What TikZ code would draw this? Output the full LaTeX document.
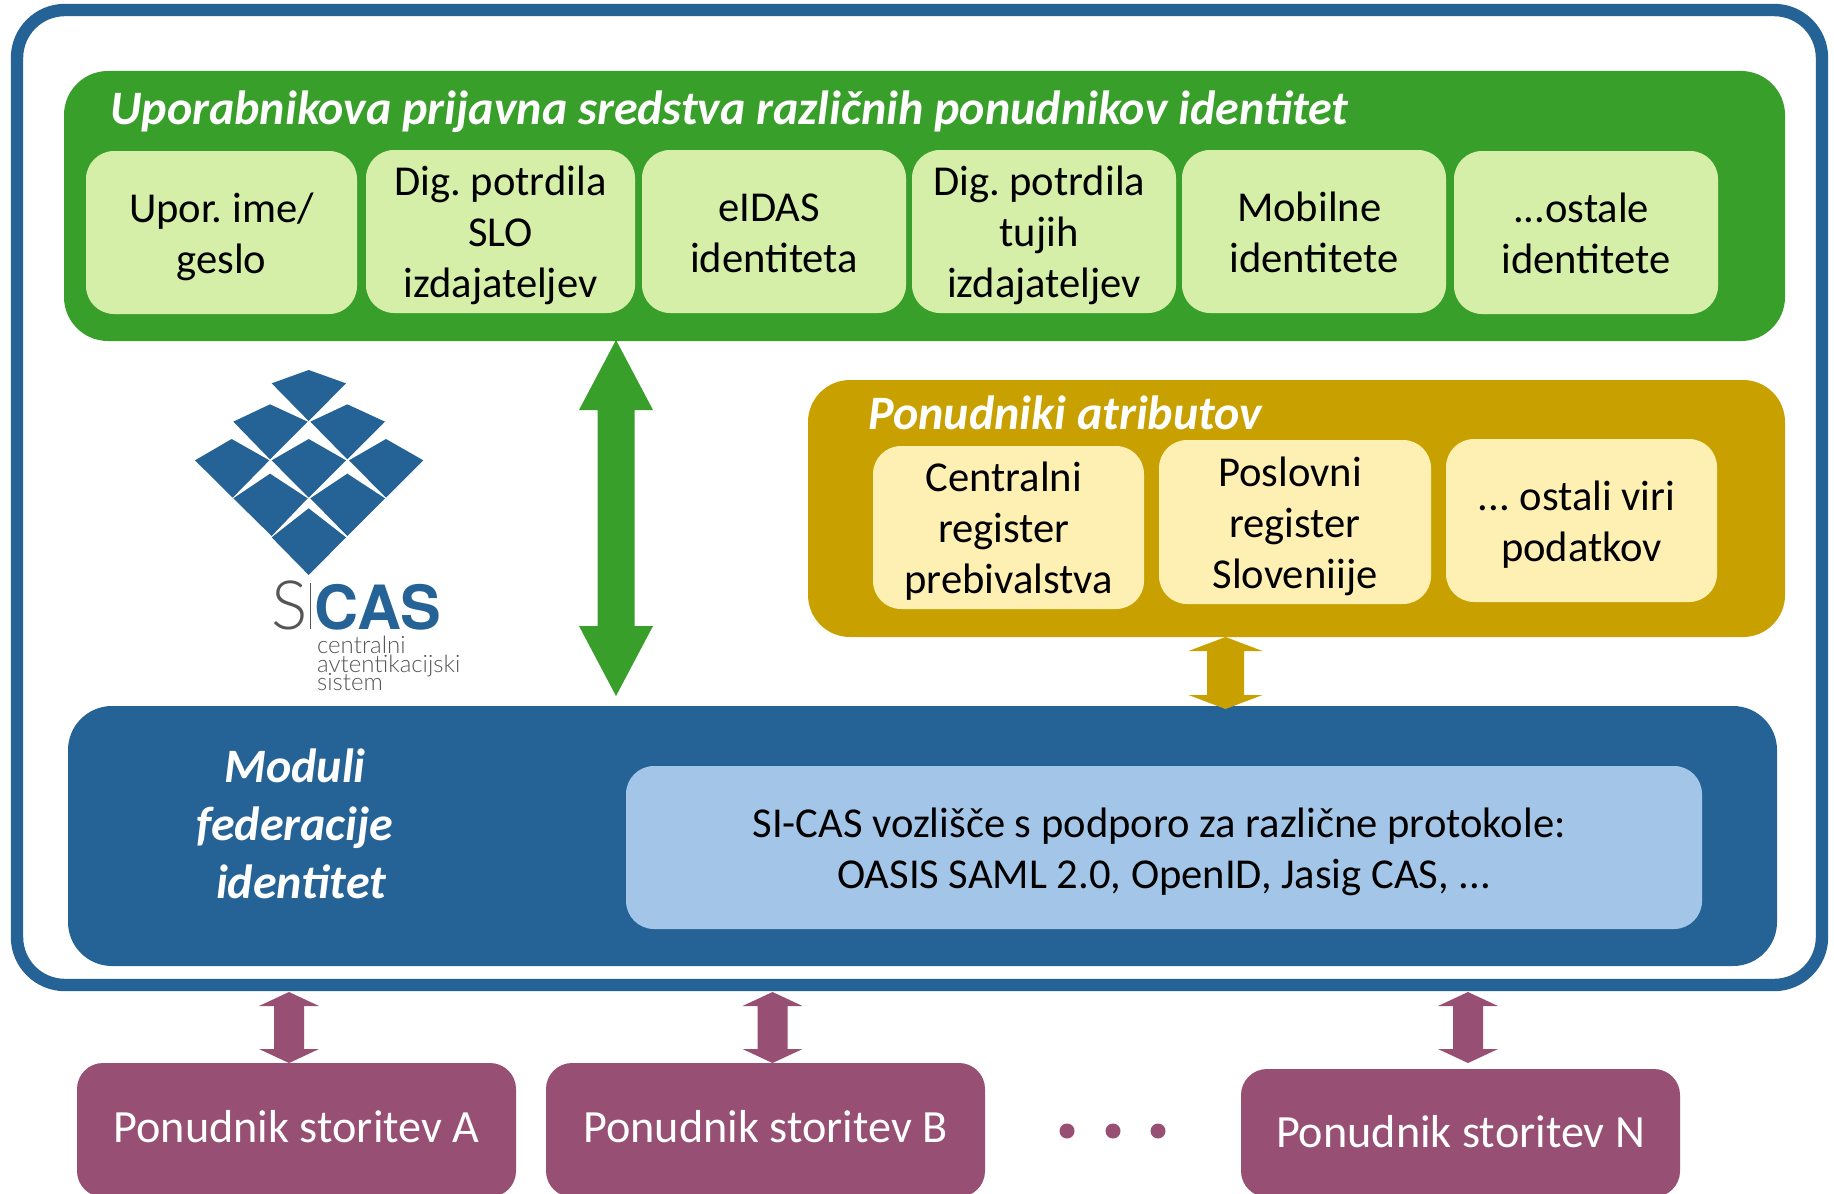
\documentclass[tikz,border=0pt]{standalone}
\usepackage{fontspec}
\setmainfont{Carlito}
\newfontfamily\logofont{TeX Gyre Heros}
\newfontfamily\logolight{Lato}[UprightFont=* Light]
\definecolor{framecol}{HTML}{256295}
\definecolor{greenpanel}{HTML}{399F2B}
\definecolor{greenbox}{HTML}{D6EFA8}
\definecolor{goldpanel}{HTML}{C8A100}
\definecolor{goldbox}{HTML}{FEEFB3}
\definecolor{bluebox}{HTML}{A3C6E8}
\definecolor{purplecol}{HTML}{974F73}
\definecolor{logogrey}{HTML}{555555}
\newcommand{\tw}[1]{\mbox{#1\hspace{0.226em}}}
\newcommand{\ls}{\rule[-5.1pt]{0pt}{25.5pt}}
\newcommand{\boxat}[7]{% name, x1,y1,x2,y2, style, text
  \node[#6, minimum width={(#4-#2)*0.5pt}, minimum height={(#5-#3)*0.5pt}] (#1) at ({(#2+#4)/2},{(#3+#5)/2}) {#7};}
\tikzset{
  panel/.style={rounded corners=22pt, inner sep=0pt, outer sep=0pt, draw=none},
  greenpanelbox/.style={panel, fill=greenpanel},
  goldpanelbox/.style={panel, rounded corners=21pt, fill=goldpanel},
  bluepanelbox/.style={panel, fill=framecol},
  inbox/.style={rounded corners=14pt, inner sep=0pt, outer sep=0pt, draw=none, align=center, text=black, font=\fontsize{21.3}{25.5}\selectfont},
  gbox/.style={inbox, fill=greenbox},
  ybox/.style={inbox, fill=goldbox},
  lbox/.style={inbox, fill=bluebox},
  sbox/.style={inbox, rounded corners=13pt, fill=purplecol, text=white, font=\fontsize{23.1}{28}\selectfont},
  paneltitle/.style={font=\fontsize{24}{29}\bfseries\itshape\selectfont, text=white, inner sep=0pt, anchor=base west},
  modtitle/.style={font=\fontsize{24}{29}\bfseries\itshape\selectfont, text=white, inner sep=0pt, align=center},
  dot/.style={circle, fill=purplecol, minimum size=7.5pt, inner sep=0pt, draw=none},
  diam/.style={fill=framecol, draw=none},
  logotext/.style={text=logogrey, inner sep=0pt, anchor=base west},
}
\newcommand{\dblarrow}[8]{% colour, cx, y1, y2, headhalf, shafthalf, headlen, name
  \fill[#1] (#2,#3) coordinate (#8top) -- ({#2+#5},{#3+#7}) -- ({#2+#6},{#3+#7}) -- ({#2+#6},{#4-#7}) -- ({#2+#5},{#4-#7}) -- (#2,#4) coordinate (#8bot) -- ({#2-#5},{#4-#7}) -- ({#2-#6},{#4-#7}) -- ({#2-#6},{#3+#7}) -- ({#2-#5},{#3+#7}) -- cycle;}
\begin{document}
\frenchspacing
\begin{tikzpicture}[x=0.5pt,y=-0.5pt]
\useasboundingbox (0,0) rectangle (1834,1193);
\fill[white] (0,0) rectangle (1834,1193);
% outer frame
\draw[framecol, line width=6.2pt, rounded corners=24pt] (17,10) rectangle (1822,985);
% green panel
\boxat{green}{64}{71}{1785}{341}{greenpanelbox}{}
\node[paneltitle] (greentitle) at (110,125) {Uporabnikova prijavna sredstva različnih ponudnikov identitet};
\boxat{g1}{86}{151}{357}{314}{gbox}{\ls Upor. ime/\\\ls geslo}
\boxat{g2}{366}{150}{635}{313}{gbox}{\ls Dig. potrdila\\\ls SLO\\\ls izdajateljev}
\boxat{g3}{642}{150}{906}{313}{gbox}{\ls\tw{eIDAS}\\\ls identiteta}
\boxat{g4}{912}{150}{1176}{313}{gbox}{\ls\tw{Dig. potrdila}\\\ls\tw{tujih}\\\ls izdajateljev}
\boxat{g5}{1182}{150}{1446}{313}{gbox}{\ls\tw{Mobilne}\\\ls identitete}
\boxat{g6}{1454}{151}{1718}{314}{gbox}{\ls\tw{...ostale}\\\ls identitete}
% gold panel
\boxat{gold}{808}{380}{1785}{637}{goldpanelbox}{}
\node[paneltitle] (goldtitle) at (868,429) {Ponudniki atributov};
\boxat{y1}{873}{446}{1144}{609}{ybox}{\ls\tw{Centralni}\\\ls\tw{register}\\\ls prebivalstva}
\boxat{y2}{1159}{440}{1431}{604}{ybox}{\ls\tw{Poslovni}\\\ls register\\\ls Sloveniije}
\boxat{y3}{1446}{439}{1717}{602}{ybox}{\ls\tw{... ostali viri}\\\ls podatkov}
% blue panel
\boxat{blue}{68}{706}{1777}{966}{bluepanelbox}{}
\node[modtitle] (modtitle) at (295,824) {Moduli\\federacije\\\hspace*{0.25em}identitet};
\boxat{l1}{626}{766}{1702}{929}{lbox}{\ls\tw{SI-CAS vozlišče s podporo za različne protokole:}\\\ls OASIS SAML 2.0, OpenID, Jasig CAS, ...}
% service providers
\begin{scope}
\clip (0,0) rectangle (1834,1193);
\boxat{s1}{77}{1063}{516}{1197}{sbox}{\raisebox{3.4pt}{Ponudnik storitev A}}
\boxat{s2}{546}{1063}{985}{1197}{sbox}{\raisebox{3.4pt}{Ponudnik storitev B}}
\boxat{s3}{1241}{1069}{1680}{1197}{sbox}{\raisebox{2pt}{Ponudnik storitev N}}
\end{scope}
\node[dot] (d1) at (1067,1131) {};
\node[dot] (d2) at (1113,1131) {};
\node[dot] (d3) at (1158,1131) {};
% arrows
\dblarrow{greenpanel}{616}{340}{696}{37}{18.5}{70}{ag}
\dblarrow{goldpanel}{1225.5}{637}{709}{37}{18.5}{14}{ay}
\dblarrow{purplecol}{289}{992}{1063}{30}{15}{14}{ap1}
\dblarrow{purplecol}{772.5}{992}{1063}{30}{15}{14}{ap2}
\dblarrow{purplecol}{1468}{992}{1063}{30}{15}{14}{ap3}
% logo
\begin{scope}[shift={(170,350)},x=0.16667pt,y=-0.16667pt]
\fill[diam] (305,100)--(416,60)--(528,100)--(416,213)--cycle;
\fill[diam] (190,215)--(300,163)--(413,215)--(300,328)--cycle;
\fill[diam] (421,215)--(532,163)--(645,215)--(532,328)--cycle;
\fill[diam] (75,331)--(185,267)--(298,331)--(188,443)--cycle;
\fill[diam] (305,331)--(416,267)--(528,331)--(416,443)--cycle;
\fill[diam] (537,331)--(648,267)--(760,331)--(648,443)--cycle;
\fill[diam] (190,445)--(300,371)--(413,445)--(305,558)--cycle;
\fill[diam] (421,445)--(532,371)--(645,445)--(532,558)--cycle;
\fill[diam] (305,562)--(416,475)--(528,562)--(416,675)--cycle;
\node[inner sep=0pt, anchor=base west, text=logogrey, font=\logolight\fontsize{34}{34}\selectfont] (logos) at (303,838) {S};
\draw[logogrey, line width=0.5pt] (421,700) -- (421,838);
\node[inner sep=0pt, anchor=base west, text=framecol, font=\logofont\bfseries\fontsize{30.5}{30.5}\selectfont] (logocas) at (433,838) {CAS};
\node[logotext, font=\logolight\fontsize{12}{12}\selectfont] (logosub1) at (440,911) {centralni};
\node[logotext, font=\logolight\fontsize{12}{12}\selectfont] (logosub2) at (440,966) {avtentikacijski};
\node[logotext, font=\logolight\fontsize{12}{12}\selectfont] (logosub3) at (440,1021) {sistem};
\end{scope}
\end{tikzpicture}
\end{document}
